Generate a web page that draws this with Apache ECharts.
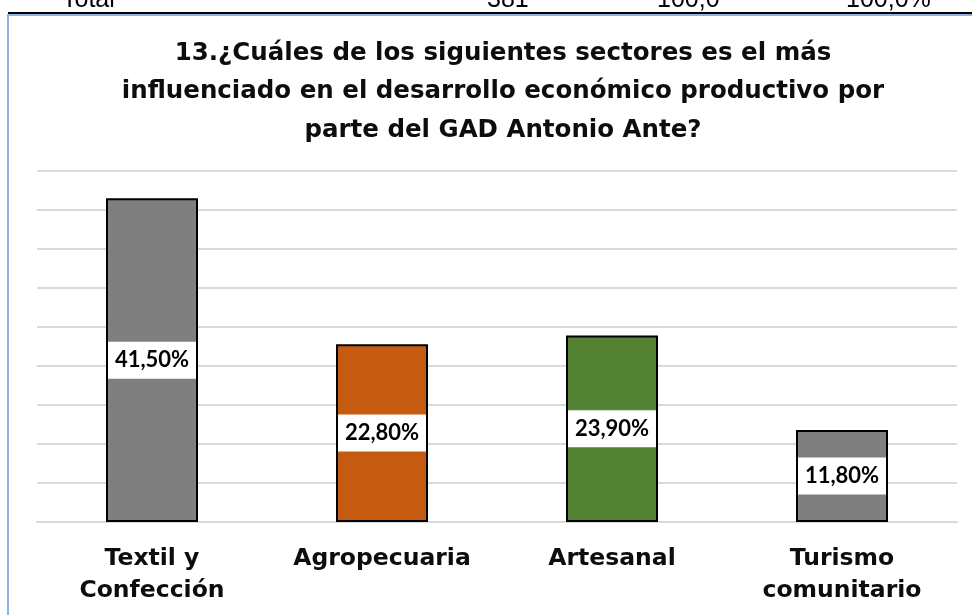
<!DOCTYPE html>
<html>
<head>
<meta charset="utf-8">
<script src="https://cdn.jsdelivr.net/npm/echarts@6/dist/echarts.min.js"></script>
<style>
  html, body { margin: 0; padding: 0; background: #fff; }
  #main { width: 972px; height: 615px; }
</style>
</head>
<body>
<div id="main"></div>
<script type="text/javascript">
    // datos del grafico
    var categorias = ['Textil y\nConfección', 'Agropecuaria', 'Artesanal', 'Turismo\ncomunitario'];
    var porcentajes = [41.5, 22.8, 23.9, 11.8];
    var colores = ['#7f7f7f', '#c55a11', '#548235', '#7f7f7f'];
    var filaTotal = ['Total', '381', '100,0', '100,0%'];

    var myChart = echarts.init(document.getElementById('main'));

    var datos = [];
    for (var i = 0; i < porcentajes.length; i++) {
        datos.push({ value: porcentajes[i], itemStyle: { color: colores[i] } });
    }

    var fuenteTabla = '25px "Liberation Sans"';

    var option = {
        animation: false,
        backgroundColor: '#fff',
        title: {
            text: '13.¿Cuáles de los siguientes sectores es el más\ninfluenciado en el desarrollo económico productivo por\nparte del GAD Antonio Ante?',
            left: 498,
            top: 29,
            textAlign: 'center',
            textStyle: {
                fontFamily: 'DejaVu Sans',
                fontWeight: 'bold',
                fontSize: 24.5,
                lineHeight: 38.5,
                color: '#0d0d0d'
            }
        },
        graphic: [
            { type: 'text', left: 62, top: -12, style: { text: filaTotal[0], font: fuenteTabla, fill: '#000' } },
            { type: 'text', left: 487, top: -12, style: { text: filaTotal[1], font: fuenteTabla, fill: '#000' } },
            { type: 'text', left: 657, top: -12, style: { text: filaTotal[2], font: fuenteTabla, fill: '#000' } },
            { type: 'text', left: 846, top: -12, style: { text: filaTotal[3], font: fuenteTabla, fill: '#000' } },
            { type: 'line', shape: { x1: 8, y1: 13, x2: 972, y2: 13 }, style: { stroke: '#000', lineWidth: 2 } },
            { type: 'rect', shape: { x: 8, y: 15, width: 1000, height: 700 }, style: { fill: 'none', stroke: '#8db3e2', lineWidth: 2 } }
        ],
        grid: {
            left: 37,
            right: 15,
            top: 171,
            bottom: 93
        },
        xAxis: {
            type: 'category',
            data: categorias,
            axisTick: { show: false },
            axisLine: { lineStyle: { color: '#d9d9d9', width: 2 } },
            axisLabel: {
                margin: 21,
                interval: 0,
                fontFamily: 'DejaVu Sans',
                fontWeight: 'bold',
                fontSize: 23.5,
                lineHeight: 32,
                color: '#0d0d0d'
            }
        },
        yAxis: {
            type: 'value',
            min: 0,
            max: 45,
            interval: 5,
            axisLabel: { show: false },
            axisLine: { show: false },
            axisTick: { show: false },
            splitLine: { lineStyle: { color: '#d9d9d9', width: 2 } }
        },
        series: [
            {
                type: 'bar',
                data: datos,
                barWidth: '40%',
                itemStyle: { borderColor: '#000', borderWidth: 2 },
                label: {
                    show: true,
                    position: 'inside',
                    formatter: function (p) {
                        return p.value.toFixed(2).replace('.', ',') + '%';
                    },
                    backgroundColor: '#fff',
                    width: 88,
                    height: 37,
                    lineHeight: 37,
                    align: 'center',
                    fontFamily: 'Lato',
                    fontWeight: 'bold',
                    fontSize: 22,
                    color: '#000'
                }
            }
        ]
    };
    myChart.setOption(option);
</script>
</body>
</html>
